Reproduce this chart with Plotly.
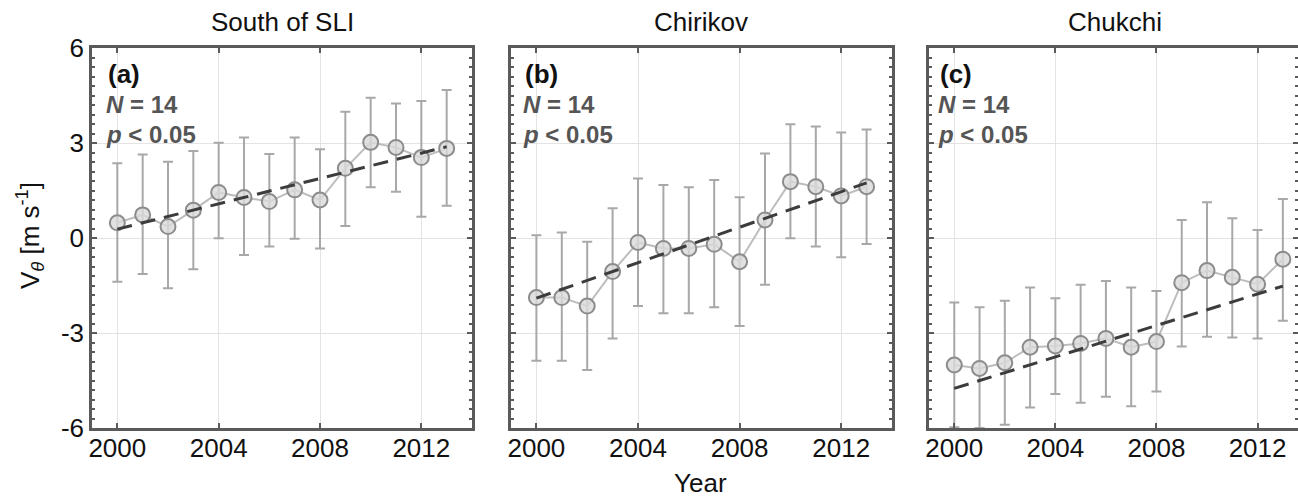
import plotly.graph_objects as go

years = list(range(2000, 2014))

# Panel (a) South of SLI
vals_a = [0.48, 0.73, 0.36, 0.88, 1.44, 1.28, 1.15, 1.52, 1.20, 2.20, 3.02, 2.86, 2.54, 2.83]
up_a = [2.36, 2.64, 2.41, 2.75, 3.01, 3.17, 2.65, 3.17, 2.80, 3.99, 4.43, 4.25, 4.33, 4.67]
lo_a = [-1.38, -1.14, -1.59, -0.99, -0.01, -0.54, -0.27, -0.02, -0.33, 0.38, 1.60, 1.46, 0.67, 1.02]
trend_a = [0.28, 2.88]

# Panel (b) Chirikov
vals_b = [-1.88, -1.88, -2.15, -1.06, -0.14, -0.33, -0.33, -0.20, -0.75, 0.57, 1.78, 1.62, 1.33, 1.62]
up_b = [0.09, 0.17, -0.12, 0.94, 1.88, 1.67, 1.60, 1.83, 1.29, 2.67, 3.59, 3.52, 3.33, 3.43]
lo_b = [-3.88, -3.88, -4.17, -3.17, -2.15, -2.38, -2.38, -2.19, -2.78, -1.48, -0.01, -0.27, -0.61, -0.19]
trend_b = [-1.90, 1.74]

# Panel (c) Chukchi
vals_c = [-4.01, -4.12, -3.94, -3.45, -3.41, -3.33, -3.17, -3.45, -3.27, -1.41, -1.03, -1.24, -1.46, -0.67]
up_c = [-2.04, -2.19, -1.98, -1.56, -1.90, -1.48, -1.36, -1.56, -1.67, 0.57, 1.13, 0.62, 0.25, 1.23]
lo_c = [-5.98, -6.0, -5.90, -5.35, -4.93, -5.20, -5.01, -5.31, -4.85, -3.43, -3.12, -3.14, -3.17, -2.61]
trend_c = [-4.75, -1.52]
trend_years = [2000, 2013]

titles = ["South of SLI", "Chirikov", "Chukchi"]
labels = ["(a)", "(b)", "(c)"]
y_ticks = [-6, -3, 0, 3, 6]
y_ticktext = ["-6", "-3", "0", "3", "6"]
x_ticks = [2000, 2004, 2008, 2012]

W, H = 1298, 497
FONT = "Liberation Sans, Arial, sans-serif"

panels = [
    dict(vals=vals_a, up=up_a, lo=lo_a, trend=trend_a, px=(92, 472), xr=[1999, 2014], tx=106),
    dict(vals=vals_b, up=up_b, lo=lo_b, trend=trend_b, px=(511, 892), xr=[1999, 2014], tx=523),
    dict(vals=vals_c, up=up_c, lo=lo_c, trend=trend_c, px=(929, 1298), xr=[1999, 2013.6], tx=938),
]

fig = go.Figure()
ydom = [1 - 428 / H, 1 - 48 / H]

for i, p in enumerate(panels):
    n = i + 1
    xa = "x" if n == 1 else f"x{n}"
    ya = "y" if n == 1 else f"y{n}"
    eplus = [u - v for u, v in zip(p["up"], p["vals"])]
    eminus = [v - l for v, l in zip(p["vals"], p["lo"])]
    fig.add_trace(go.Scatter(
        x=years, y=p["vals"], mode="lines+markers", xaxis=xa, yaxis=ya,
        line=dict(color="#bdbdbd", width=2),
        marker=dict(symbol="circle", size=15, color="rgba(218,218,218,0.8)",
                    line=dict(color="#8c8c8c", width=2)),
        error_y=dict(type="data", symmetric=False, array=eplus, arrayminus=eminus,
                     color="#a8a8a8", thickness=2, width=5),
        showlegend=False, cliponaxis=True,
    ))
    fig.add_trace(go.Scatter(
        x=trend_years, y=p["trend"], mode="lines", xaxis=xa, yaxis=ya,
        line=dict(color="#3c3c3c", width=3, dash="15px,9px"),
        showlegend=False,
    ))
    axcommon = dict(showline=True, linecolor="#5a5a5a", linewidth=2.5, mirror="allticks",
                    ticks="inside", tickcolor="#5a5a5a", ticklen=5, tickwidth=1.5,
                    showgrid=True, gridcolor="#e3e3e3", gridwidth=1.2, zeroline=False,
                    automargin=False)
    xdom = [p["px"][0] / W, p["px"][1] / W]
    fig.update_layout(**{
        ("xaxis" if n == 1 else f"xaxis{n}"): dict(
            domain=xdom, range=p["xr"], tickvals=x_ticks, anchor=ya,
            ticklabelstandoff=-5,
            tickfont=dict(family=FONT, size=26, color="#111"), **axcommon),
        ("yaxis" if n == 1 else f"yaxis{n}"): dict(
            domain=ydom, range=[-6, 6], tickvals=y_ticks, ticktext=y_ticktext, anchor=xa,
            showticklabels=(n == 1),
            tickfont=dict(family=FONT, size=26, color="#111"),
            minor=dict(ticks="inside", dtick=0.3, ticklen=3, tickcolor="#5a5a5a", showgrid=False),
            **axcommon),
    })
    cx = (p["px"][0] + p["px"][1]) / 2 if n < 3 else 1115
    fig.add_annotation(x=cx / W, y=1 - 22 / H, xref="paper", yref="paper", text=titles[i],
                       showarrow=False, xanchor="center", yanchor="middle",
                       font=dict(family=FONT, size=26, color="#111"))
    fig.add_annotation(x=p["tx"] / W, y=1 - 74 / H, xref="paper", yref="paper", text=f"<b>{labels[i]}</b>",
                       showarrow=False, xanchor="left", yanchor="middle",
                       font=dict(family=FONT, size=26, color="#111"))
    fig.add_annotation(x=(p["tx"] - 2) / W, y=1 - 104 / H, xref="paper", yref="paper",
                       text="<b><i>N</i> = 14</b>",
                       showarrow=False, xanchor="left", yanchor="middle",
                       font=dict(family=FONT, size=24, color="#555"))
    fig.add_annotation(x=(p["tx"] - 2) / W, y=1 - 134 / H, xref="paper", yref="paper",
                       text="<b><i>p</i> &lt; 0.05</b>",
                       showarrow=False, xanchor="left", yanchor="middle",
                       font=dict(family=FONT, size=24, color="#555"))

fig.add_annotation(x=700 / W, y=1 - 483 / H, xref="paper", yref="paper", text="Year",
                   showarrow=False, xanchor="center", yanchor="middle",
                   font=dict(family=FONT, size=26, color="#111"))
fig.add_annotation(x=30 / W, y=1 - 236 / H, xref="paper", yref="paper",
                   text="V<sub><i>θ</i></sub> [m s<sup>-1</sup>]", textangle=-90,
                   showarrow=False, xanchor="center", yanchor="middle",
                   font=dict(family=FONT, size=26, color="#111"))

fig.update_layout(width=W, height=H, margin=dict(l=0, r=0, t=0, b=0, autoexpand=False),
                  paper_bgcolor="white", plot_bgcolor="white")
fig.write_html("out.html")
